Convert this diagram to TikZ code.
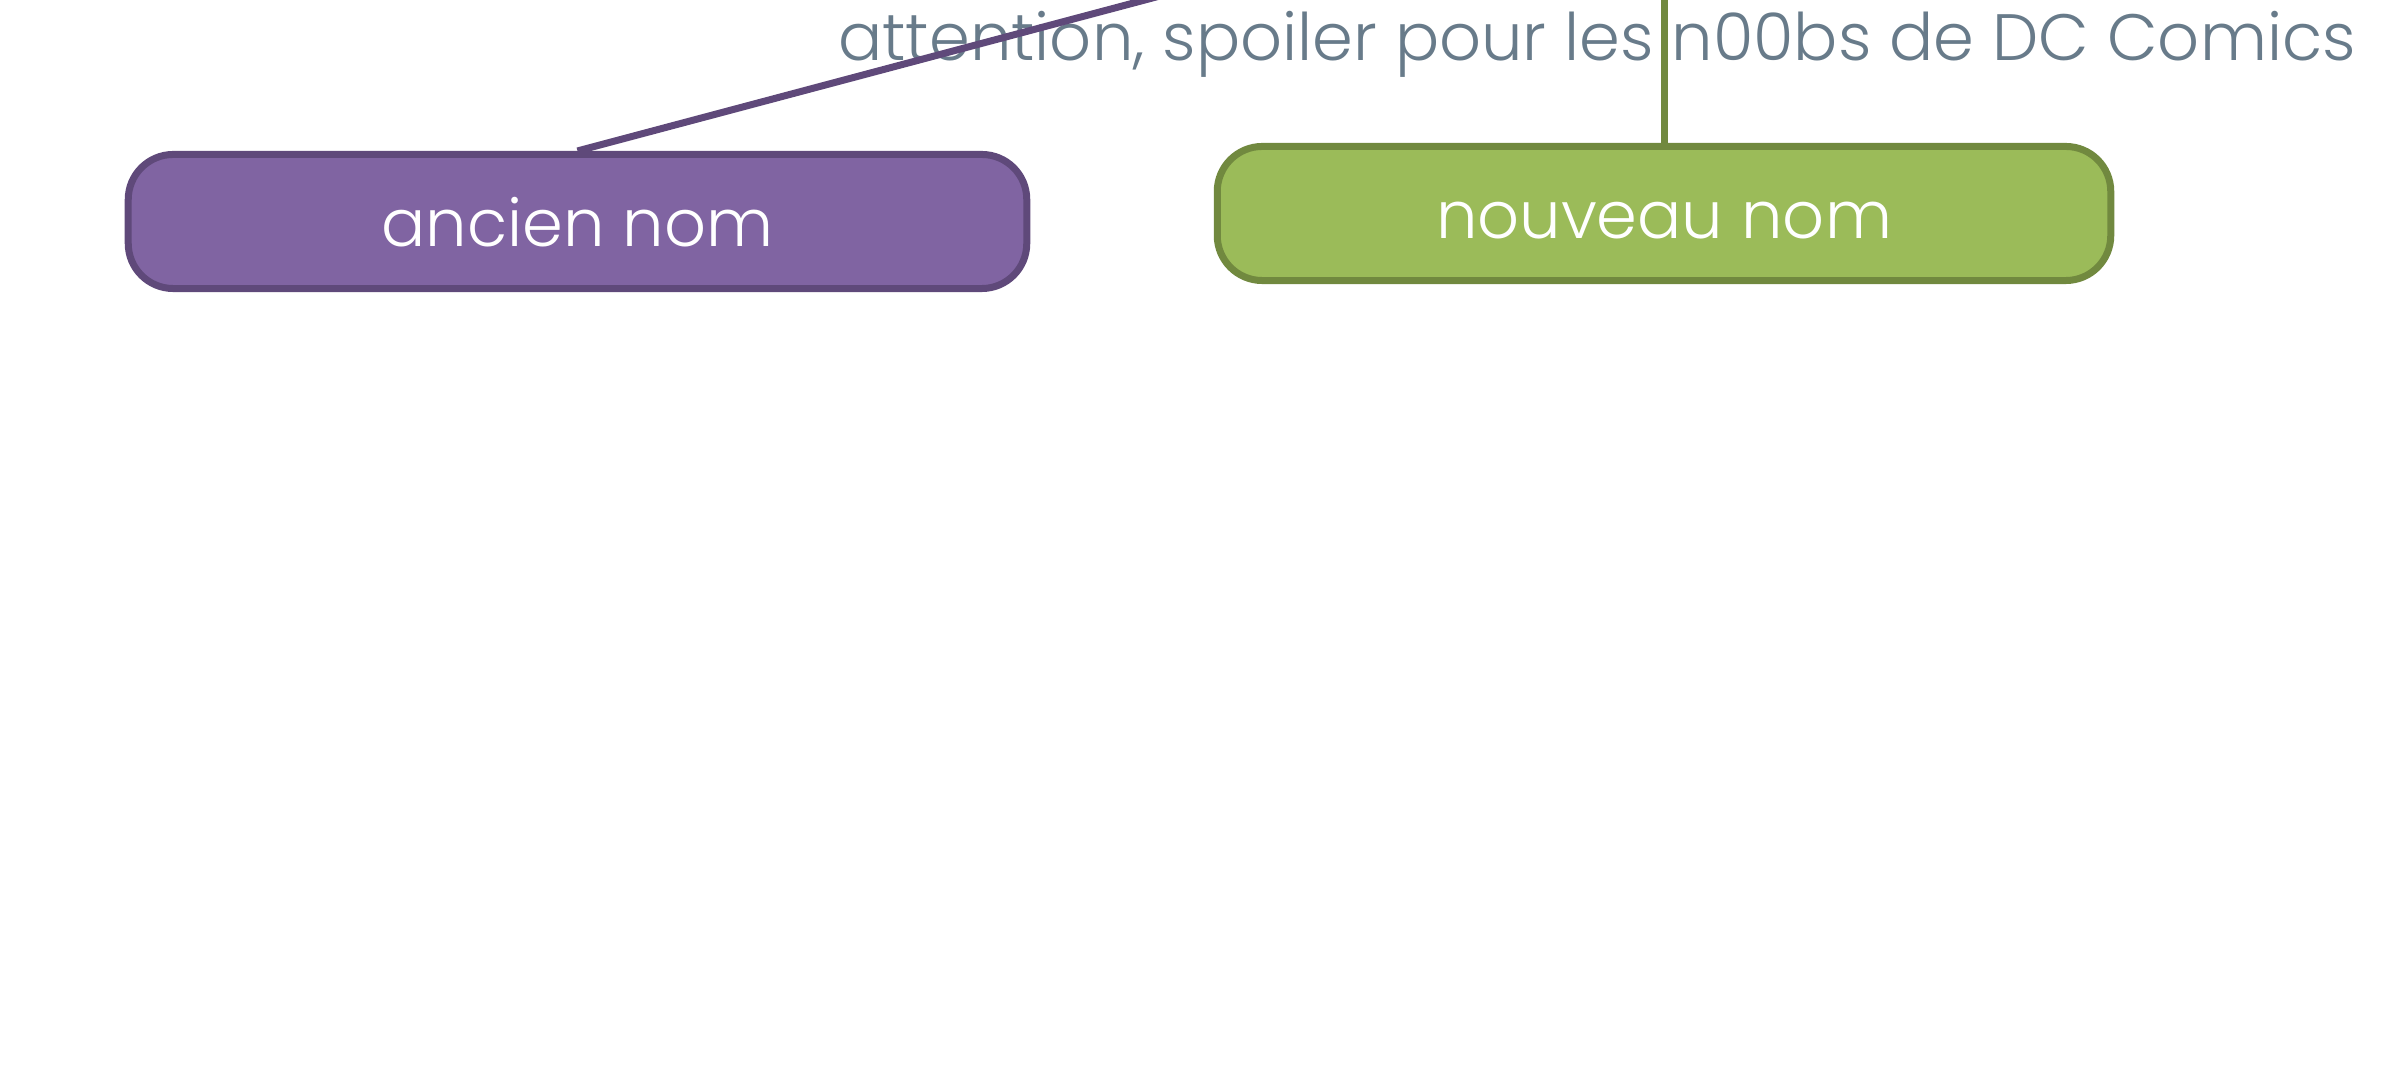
\documentclass[tikz,border=0pt]{standalone}
\usepackage{fontspec}
\setmainfont{Poppins Light}
\usepackage{xcolor}
\usepackage{tikz}
\definecolor{oldfill}{HTML}{8064A2}
\definecolor{oldline}{HTML}{5F497A}
\definecolor{newfill}{HTML}{9BBB59}
\definecolor{newline}{HTML}{71893F}
\definecolor{spoilertext}{HTML}{687B8A}
\newcommand{\namefont}{\fontsize{18.64pt}{23pt}\selectfont}

\begin{document}
\begin{tikzpicture}[x=0.01cm, y=-0.01cm,
    namebox/.style={draw, line width=0.07cm, rounded corners=0.45cm, minimum width=8.98cm, minimum height=1.34cm, inner sep=0pt, text=white, font=\namefont, text height=0.5cm, text depth=0pt},
    oldbox/.style={namebox, fill=oldfill, draw=oldline},
    newbox/.style={namebox, fill=newfill, draw=newline, minimum width=8.93cm},
    link/.style={line width=0.07cm}]
    \useasboundingbox (0,0) rectangle (2388,1080);
    \node[anchor=base, inner sep=0pt, text=spoilertext, font=\namefont] (spoiler) at (1597,61) {attention, spoiler pour les n00bs de DC Comics};
    \node[oldbox] (old) at (577.5,221.5) {ancien nom};
    \node[newbox] (new) at (1664,213.5) {nouveau nom};
    
    \coordinate (oldtop) at (1220,-20);
    \coordinate (newtop) at (1664,-20);
    \draw[link, oldline] (old.north) -- (oldtop);
    \draw[link, newline] (new.north) -- (newtop);
\end{tikzpicture}
\end{document}
